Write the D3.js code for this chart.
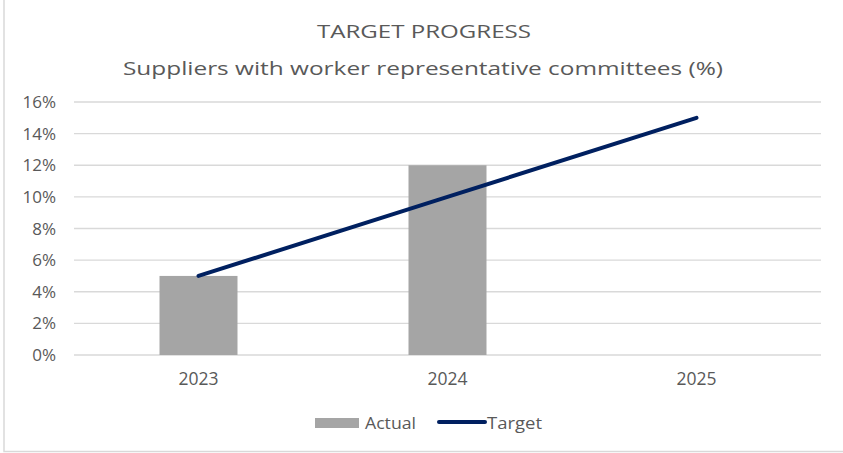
<!DOCTYPE html>
<html><head><meta charset="utf-8">
<script src="https://cdn.jsdelivr.net/npm/d3@7"></script>
<style>body{margin:0;background:#fff}svg{display:block}</style>
</head><body><svg id="c" width="843" height="453"></svg>
<script>
const categories = ["2023", "2024", "2025"];
const actual = [5, 12, null];
const target = [5, 10, 15];
const yTicks = [0, 2, 4, 6, 8, 10, 12, 14, 16];
const titleLines = ["TARGET PROGRESS", "Suppliers with worker representative committees (%)"];
const legendLabels = ["Actual", "Target"];

const svg = d3.select("#c");
const font = "'Open Sans', sans-serif";
const textColor = "#595959";
svg.append("rect").attr("x", 4).attr("y", -5).attr("width", 900).attr("height", 456.5)
  .attr("fill", "#fff").attr("stroke", "#d9d9d9").attr("stroke-width", 1.5);

const m = {left: 74, right: 821, top: 102, bottom: 355};
const x = d3.scaleBand().domain(categories).range([m.left, m.right]);
const y = d3.scaleLinear().domain([0, 16]).range([m.bottom, m.top]);

svg.append("g").selectAll("line").data(yTicks).join("line")
  .attr("x1", m.left).attr("x2", m.right)
  .attr("y1", d => y(d)).attr("y2", d => y(d))
  .attr("stroke", "#d9d9d9").attr("stroke-width", 1.3);

svg.append("g").selectAll("text").data(yTicks).join("text")
  .attr("x", 56).attr("y", d => y(d)).attr("dy", "0.36em")
  .attr("text-anchor", "end").attr("font-family", font).attr("font-size", 17)
  .attr("fill", textColor).text(d => d + "%");

svg.append("g").selectAll("text").data(categories).join("text")
  .attr("x", d => x(d) + x.bandwidth() / 2).attr("y", 385)
  .attr("text-anchor", "middle").attr("font-family", font).attr("font-size", 17.5)
  .attr("fill", textColor).text(d => d);

const bw = 78;
svg.append("g").selectAll("rect").data(categories.map((c, i) => ({c, v: actual[i]})).filter(d => d.v != null))
  .join("rect")
  .attr("x", d => x(d.c) + x.bandwidth() / 2 - bw / 2).attr("width", bw)
  .attr("y", d => y(d.v)).attr("height", d => y(0) - y(d.v))
  .attr("fill", "#a5a5a5");

const line = d3.line().x(d => x(d.c) + x.bandwidth() / 2).y(d => y(d.v));
svg.append("path").datum(categories.map((c, i) => ({c, v: target[i]})))
  .attr("d", line).attr("fill", "none").attr("stroke", "#002060")
  .attr("stroke-width", 4).attr("stroke-linecap", "round");

svg.append("text").attr("x", 424).attr("y", 38).attr("text-anchor", "middle")
  .attr("font-family", font).attr("font-size", 19).attr("fill", textColor)
  .attr("textLength", 214).attr("lengthAdjust", "spacingAndGlyphs").text(titleLines[0]);
svg.append("text").attr("x", 423).attr("y", 75).attr("text-anchor", "middle")
  .attr("font-family", font).attr("font-size", 19).attr("fill", textColor)
  .attr("textLength", 600).attr("lengthAdjust", "spacingAndGlyphs").text(titleLines[1]);

const lg = svg.append("g").attr("font-family", font).attr("font-size", 16).attr("fill", textColor);
lg.append("rect").attr("x", 315).attr("y", 418).attr("width", 44).attr("height", 10).attr("fill", "#a5a5a5");
lg.append("text").attr("x", 365).attr("y", 423).attr("dy", "0.36em")
  .attr("textLength", 51).attr("lengthAdjust", "spacingAndGlyphs").text(legendLabels[0]);
lg.append("line").attr("x1", 439).attr("x2", 485).attr("y1", 422).attr("y2", 422)
  .attr("stroke", "#002060").attr("stroke-width", 4).attr("stroke-linecap", "round");
lg.append("text").attr("x", 487).attr("y", 423).attr("dy", "0.36em")
  .attr("textLength", 55).attr("lengthAdjust", "spacingAndGlyphs").text(legendLabels[1]);
</script></body></html>
